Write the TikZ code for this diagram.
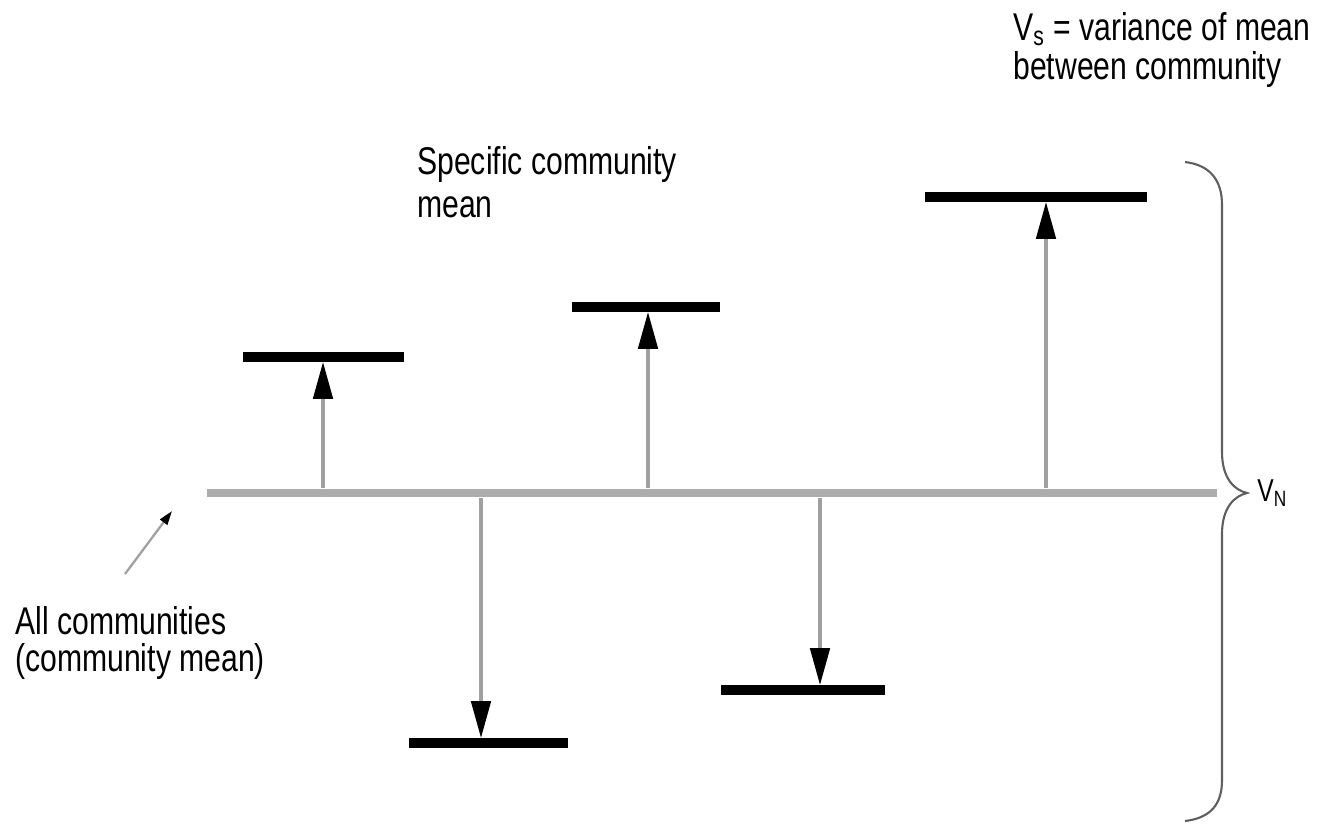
\documentclass[tikz,border=0pt]{standalone}
\usepackage{fontspec}
\setmainfont{Liberation Sans}[FakeStretch=0.78]
\usetikzlibrary{arrows.meta}
\definecolor{GrisBase}{RGB}{172,172,172}
\definecolor{GrisFlecha}{RGB}{160,160,160}
\definecolor{GrisLlave}{RGB}{95,95,95}

\begin{document}
\begin{tikzpicture}[x=0.02cm, y=-0.02cm,
    mn/.style={fill=black, inner sep=0pt, minimum height=5.2pt},
    arr/.style={draw=GrisFlecha, line width=2.1pt,
      -{Triangle[length=21pt, width=11pt, color=black]}},
    lbl/.style={anchor=north west, align=left, inner sep=0pt}
  ]
    \useasboundingbox (0,0) rectangle (1325,823);
    \node[fill=GrisBase, inner sep=0pt, minimum width=20.2cm, minimum height=4.8pt] (base) at (712,493) {};
    \node[mn, minimum width=3.22cm] (m1) at (323.5,357) {};
    \node[mn, minimum width=2.96cm] (m2) at (646,307) {};
    \node[mn, minimum width=4.44cm] (m3) at (1036,197) {};
    \node[mn, minimum width=3.18cm] (m4) at (488.5,743) {};
    \node[mn, minimum width=3.28cm] (m5) at (803,690) {};
    \coordinate (b1) at (323,493);
    \coordinate (b2) at (648,493);
    \coordinate (b3) at (1046,493);
    \coordinate (b4) at (481,493);
    \coordinate (b5) at (820,493);
    \draw[arr] (b1 |- base.north) -- (b1 |- m1.south);
    \draw[arr] (b2 |- base.north) -- (b2 |- m2.south);
    \draw[arr] (b3 |- base.north) -- (b3 |- m3.south);
    \draw[arr] (b4 |- base.south) -- (b4 |- m4.north);
    \draw[arr] (b5 |- base.south) -- (b5 |- m5.north);
    \coordinate (p0) at (125,574);
    \coordinate (p1) at (172,511);
    \draw[draw=GrisFlecha, line width=1.3pt, -{Triangle[length=8pt, width=5pt, color=black]}] (p0) -- (p1);
    \draw[GrisLlave, line width=1.2pt] (1185,162) .. controls (1210,165) and (1222,180) .. (1222,205)
      -- (1222,452) .. controls (1222,478) and (1234,490) .. (1247,493)
      .. controls (1234,496) and (1222,508) .. (1222,534)
      -- (1222,780) .. controls (1222,805) and (1210,818) .. (1185,821);
    \coordinate (tip) at (1247,493);
    \node[anchor=west, inner sep=0pt, font=\fontsize{18}{20}\selectfont] (vn) at ([xshift=0.2cm]tip) {V\textsubscript{N}};
    \node[lbl, font=\fontsize{22}{22}\selectfont] (vs) at (1013,12) {V\textsubscript{s} = variance of mean\\between community};
    \node[lbl, font=\fontsize{22}{24.4}\selectfont] (spec) at (417,146) {Specific community\\mean};
    \node[lbl, font=\fontsize{22}{21}\selectfont] (all) at (15,606) {All communities\\(community mean)};
  \end{tikzpicture}
\end{document}
